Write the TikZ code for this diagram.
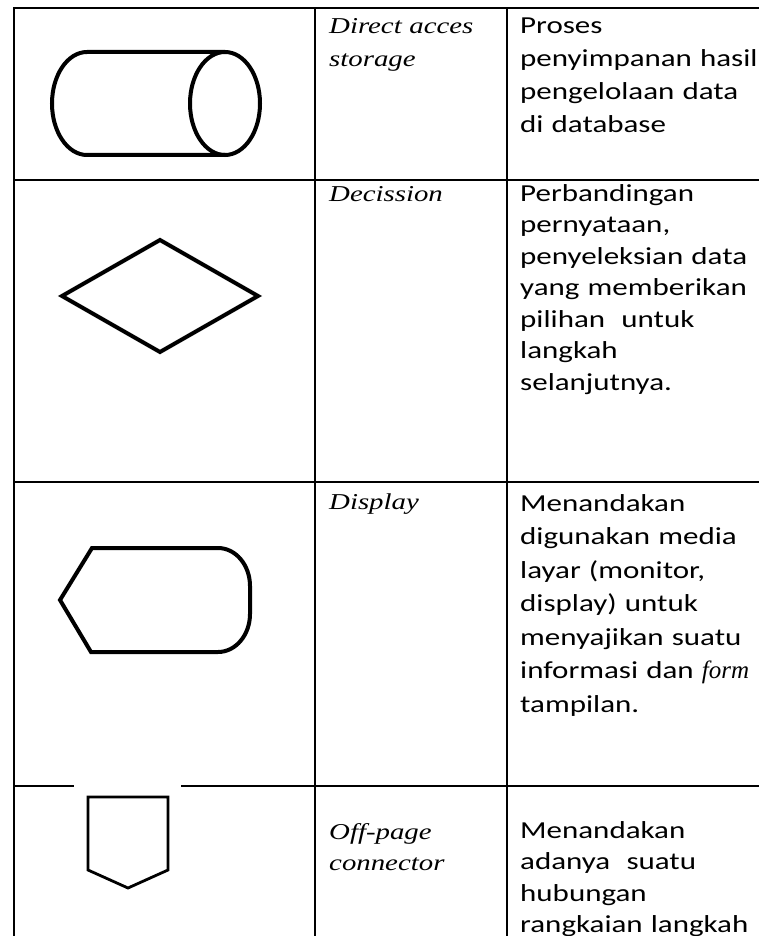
\documentclass[tikz,border=0pt]{standalone}
\usepackage{fontspec}
\newfontfamily\calib[FakeStretch=1.27]{Carlito}
\newfontfamily\timesf[FakeStretch=1.27]{Liberation Serif}
\newfontfamily\timesu{Liberation Serif}
\begin{document}
\begin{tikzpicture}[x=1pt,y=-1pt,
  grid/.style={line width=2.6pt,line cap=rect},
  sym/.style={line width=4pt},
  symthin/.style={line width=2.8pt},
  desc/.style={inner sep=0pt,text width=270pt,align=left,anchor=base west,
    font=\calib\fontsize{24.4}{#1}\selectfont},
  term/.style={inner sep=0pt,text width=180pt,align=left,anchor=base west,
    font=\timesf\itshape\fontsize{22.7}{#1}\selectfont}]
\useasboundingbox (0,0) rectangle (758,936);
% table rules
\draw[grid] (14,8) -- (758,8);
\draw[grid] (14,180) -- (758,180);
\draw[grid] (14,482) -- (758,482);
\draw[grid] (14,786) -- (73,786);
\draw[grid] (182,786) -- (758,786);
\draw[grid] (14,8) -- (14,940);
\draw[grid] (315,8) -- (315,940);
\draw[grid] (507,8) -- (507,940);
% direct access storage (cylinder)
\draw[sym] (225,52) -- (87,52)
  arc[start angle=270,end angle=90,x radius=35,y radius=51.5] -- (225,155);
\draw[sym] (225,103.5) ellipse[x radius=35,y radius=51.5];
% decision
\draw[sym] (62,296) -- (160,240) -- (258,296) -- (160,352) -- cycle;
% display
\draw[sym] (60,600) -- (92,548) -- (218,548)
  arc[start angle=270,end angle=360,x radius=32,y radius=38] -- (250,614)
  arc[start angle=0,end angle=90,x radius=32,y radius=38] -- (91,652) -- cycle;
% off-page connector
\draw[symthin] (88,797) -- (168,797) -- (168,870) -- (128,888) -- (88,870) -- cycle;
% terms
\node[term=32.7] (t1) at (329,34) {Direct acces\\storage};
\node[term=31.5] (t2) at (329,201) {Decission};
\node[term=33.5] (t3) at (329,509) {Display};
\node[term=31.5] (t4) at (329,839) {Off-page\\connector};
% descriptions
\node[desc=32.7] (d1) at (520,34) {Proses\\penyimpanan hasil\\pengelolaan data\\di database};
\node[desc=31.5] (d2) at (520,201) {Perbandingan\\pernyataan,\\penyeleksian data\\yang memberikan\\pilihan~ untuk\\langkah\\selanjutnya.};
\node[desc=33.5] (d3) at (520,511) {Menandakan\\digunakan media\\layar (monitor,\\display) untuk\\menyajikan suatu\\informasi dan {\timesu\itshape\fontsize{25}{33.5}\selectfont form}\\tampilan.};
\node[desc=31.5] (d4) at (520,838) {Menandakan\\adanya~ suatu\\hubungan\\rangkaian langkah};
\end{tikzpicture}
\end{document}
